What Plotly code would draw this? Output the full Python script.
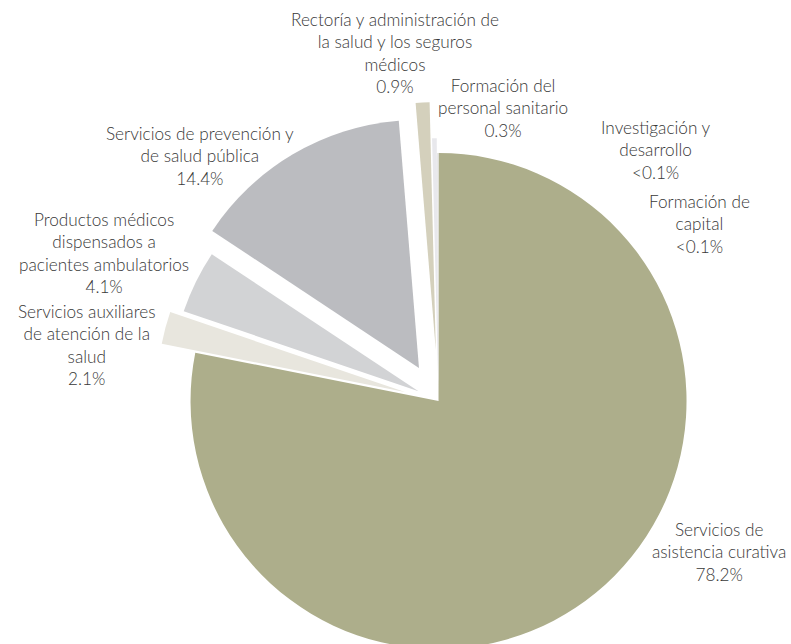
import plotly.graph_objects as go

# Health expenditure shares by function (%)
categories = [
    "Servicios de<br>asistencia curativa",
    "Servicios auxiliares<br>de atención de la<br>salud",
    "Productos médicos<br>dispensados a<br>pacientes ambulatorios",
    "Servicios de prevención y<br>de salud pública",
    "Rectoría y administración de<br>la salud y los seguros<br>médicos",
    "Formación del<br>personal sanitario",
    "Investigación y<br>desarrollo",
    "Formación de<br>capital",
]
shares = [78.2, 2.1, 4.1, 14.4, 0.9, 0.3, 0.05, 0.05]
share_labels = ["78.2%", "2.1%", "4.1%", "14.4%", "0.9%", "0.3%", "<0.1%", "<0.1%"]

colors = ["#ADAE8B", "#E8E6DE", "#D2D3D5", "#BBBCC0", "#D4D0BC", "#E8E8EC", "#E2E2E2", "#E2E2E2"]
pulls = [0, 0.14, 0.09, 0.155, 0.205, 0.06, 0, 0]

W, H = 791, 802
# label centres in pixels (x from left, y from top)
label_pos = [
    (719, 552), (87, 345), (104, 253), (200, 156),
    (395, 53), (503, 108), (656, 150), (699, 224),
]

fig = go.Figure(go.Pie(
    values=shares,
    labels=[c.replace("<br>", " ") for c in categories],
    sort=False,
    direction="clockwise",
    rotation=0,
    pull=pulls,
    marker=dict(colors=colors, line=dict(width=0)),
    textinfo="none",
    hoverinfo="label+percent",
    showlegend=False,
    domain=dict(x=[0.1766, 0.9322], y=[0, 1]),
))

for cat, lab, (px, py) in zip(categories, share_labels, label_pos):
    fig.add_annotation(
        x=px / W, y=1 - py / H, xref="paper", yref="paper",
        text=f"{cat}<br>{lab}", showarrow=False,
        xanchor="center", yanchor="middle", align="center", borderpad=0,
        font=dict(family="Lato", size=17.2, color="#383838", weight=300),
    )

fig.update_layout(
    width=W, height=H,
    margin=dict(l=0, r=0, t=0, b=0),
    paper_bgcolor="white", plot_bgcolor="white",
)

fig.write_html("out.html", post_script="document.body.style.overflow='hidden';")
